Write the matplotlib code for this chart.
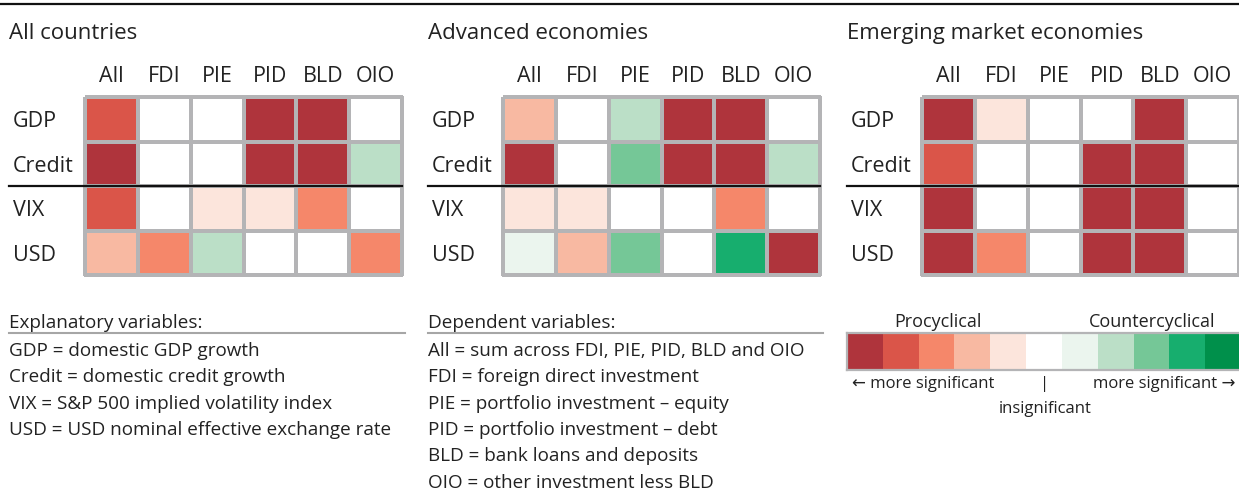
import numpy as np
import matplotlib.pyplot as plt
from matplotlib.colors import ListedColormap, BoundaryNorm

plt.rcParams['font.family'] = ['Open Sans', 'DejaVu Sans']

W, H = 1239, 491

rows = ["GDP", "Credit", "VIX", "USD"]
cols = ["All", "FDI", "PIE", "PID", "BLD", "OIO"]

# -5 = most significant procyclical, 0 = insignificant, 5 = most significant countercyclical
all_countries = [[-4, 0, 0, -5, -5, 0],
                 [-5, 0, 0, -5, -5, 2],
                 [-4, 0, -1, -1, -3, 0],
                 [-2, -3, 2, 0, 0, -3]]
advanced = [[-2, 0, 2, -5, -5, 0],
            [-5, 0, 3, -5, -5, 2],
            [-1, -1, 0, 0, -3, 0],
            [1, -2, 3, 0, 4, -5]]
emerging = [[-5, -1, 0, 0, -5, 0],
            [-4, 0, 0, -5, -5, 0],
            [-5, 0, 0, -5, -5, 0],
            [-5, -3, 0, -5, -5, 0]]
scale = list(range(-5, 6))

palette = ['#af343c', '#da5549', '#f5876a', '#f8b9a2', '#fce5dc', '#ffffff',
           '#ebf5ee', '#bbdfc7', '#75c797', '#17ae6e', '#00904b']
cmap = ListedColormap(palette)
norm = BoundaryNorm(np.arange(-5.5, 6.5, 1), cmap.N)

explanatory = ["GDP = domestic GDP growth",
               "Credit = domestic credit growth",
               "VIX = S&P 500 implied volatility index",
               "USD = USD nominal effective exchange rate"]
dependent = ["All = sum across FDI, PIE, PID, BLD and OIO",
             "FDI = foreign direct investment",
             "PIE = portfolio investment \u2013 equity",
             "PID = portfolio investment \u2013 debt",
             "BLD = bank loans and deposits",
             "OIO = other investment less BLD"]

txtcol = '#222222'
gridcol = '#b4b4b6'

fig = plt.figure(figsize=(W / 100, H / 100), dpi=100)


def box(x0, y0, x1, y1):
    return [x0 / W, 1 - y1 / H, (x1 - x0) / W, (y1 - y0) / H]


def txt(x, y, s, **kw):
    fig.text(x / W, 1 - y / H, s, color=txtcol, va='baseline', **kw)


def hline(x0, x1, y, **kw):
    fig.add_artist(plt.Line2D([x0 / W, x1 / W], [1 - y / H, 1 - y / H],
                              transform=fig.transFigure, **kw))


hline(0, W, 4, color='#111111', lw=1.6)

panels = [("All countries", all_countries, 9, 85),
          ("Advanced economies", advanced, 428, 503),
          ("Emerging market economies", emerging, 847, 922)]

for title, data, tx, gx in panels:
    txt(tx, 39, title, fontsize=16)
    ax = fig.add_axes(box(gx, 97, gx + 317, 275))
    mesh = ax.pcolormesh(np.array(data), cmap=cmap, norm=norm,
                         edgecolors=gridcol, linewidth=1.6)
    mesh.set_clip_on(False)
    ax.set_xlim(0, 6)
    ax.set_ylim(4, 0)
    ax.set_xticks(np.arange(6) + 0.5, cols)
    ax.set_yticks(np.arange(4) + 0.5, rows)
    ax.xaxis.tick_top()
    ax.tick_params(length=0, labelsize=15.5, labelcolor=txtcol)
    ax.tick_params(axis='x', pad=7)
    ax.tick_params(axis='y', pad=(gx - tx - 4) * 0.72)
    for lab in ax.get_yticklabels():
        lab.set_ha('left')
    for s in ax.spines.values():
        s.set_visible(False)
    ax.axhline(2, xmin=-(gx - tx) / 317, xmax=1, color='#111111', lw=1.6,
               clip_on=False, zorder=5)

# colour scale
cax = fig.add_axes(box(847, 333, 1241, 370))
cax.pcolormesh(np.array([scale]), cmap=cmap, norm=norm)
cax.set_xticks([])
cax.set_yticks([])
for s in cax.spines.values():
    s.set_color(gridcol)
    s.set_linewidth(1.6)

txt(938, 327, "Procyclical", fontsize=13, ha='center')
txt(1152, 327, "Countercyclical", fontsize=13, ha='center')
txt(852, 388, "\u2190 more significant", fontsize=12, ha='left')
txt(1235, 388, "more significant \u2192", fontsize=12, ha='right')
txt(1045, 388, "|", fontsize=12, ha='center')
txt(1045, 413, "insignificant", fontsize=12, ha='center')

# variable definitions
txt(9, 328, "Explanatory variables:", fontsize=13.6)
hline(9, 405, 333, color='#a6a6a6', lw=1.5)
for i, s in enumerate(explanatory):
    txt(9, 356 + i * 26.3, s, fontsize=13.6)

txt(428, 328, "Dependent variables:", fontsize=13.6)
hline(428, 823, 333, color='#a6a6a6', lw=1.5)
for i, s in enumerate(dependent):
    txt(428, 356 + i * 26.3, s, fontsize=13.6)

fig.savefig("out.png", dpi=100)
